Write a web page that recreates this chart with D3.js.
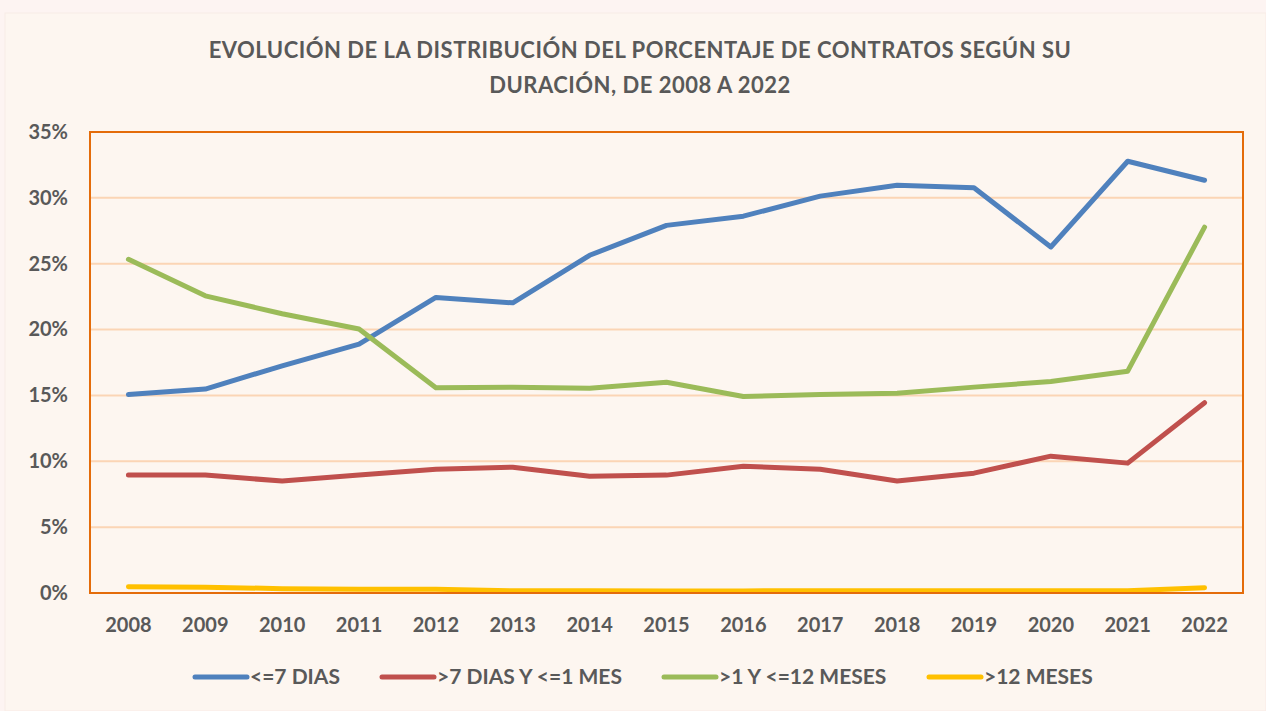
<!DOCTYPE html>
<html>
<head>
<meta charset="utf-8">
<script src="https://cdn.jsdelivr.net/npm/d3@7"></script>
<style>
  html, body { margin: 0; padding: 0; background: #fdf4f2; }
  svg { display: block; }
</style>
</head>
<body>
<div id="chart"></div>
<script>
// Datos
const years = ['2008', '2009', '2010', '2011', '2012', '2013', '2014', '2015',
  '2016', '2017', '2018', '2019', '2020', '2021', '2022'];
const hasta7Dias = [15.07, 15.48, 17.25, 18.9, 22.44, 22.03, 25.64, 27.91, 28.61, 30.13, 30.96, 30.76, 26.27, 32.78, 31.34];
const de7DiasA1Mes = [8.95, 8.95, 8.5, 8.95, 9.4, 9.55, 8.87, 8.95, 9.63, 9.4, 8.5, 9.1, 10.39, 9.86, 14.45];
const de1A12Meses = [25.34, 22.56, 21.2, 20.04, 15.58, 15.63, 15.55, 16.0, 14.92, 15.07, 15.17, 15.63, 16.06, 16.84, 27.78];
const mas12Meses = [0.48, 0.44, 0.33, 0.29, 0.29, 0.17, 0.17, 0.16, 0.16, 0.17, 0.18, 0.17, 0.18, 0.17, 0.4];
const seriesNames = ['<=7 DIAS', '>7 DIAS Y <=1 MES', '>1 Y <=12 MESES', '>12 MESES'];
const seriesColors = ['#4f81bd', '#c0504d', '#9bbb59', '#ffc000'];
const yTicks = [0, 5, 10, 15, 20, 25, 30, 35];

const series = [hasta7Dias, de7DiasA1Mes, de1A12Meses, mas12Meses].map((vals, i) => ({
  name: seriesNames[i],
  color: seriesColors[i],
  values: vals.map((v, j) => ({ year: years[j], value: v }))
}));

const W = 1266, H = 711;
const plot = { left: 90, right: 1243, top: 132, bottom: 593 };
const font = 'Lato, "Open Sans", sans-serif';
const textColor = '#595959';

const svg = d3.select('#chart').append('svg')
  .attr('width', W)
  .attr('height', H);

// fondo
svg.append('rect')
  .attr('x', 5).attr('y', 13)
  .attr('width', W - 5).attr('height', H - 13)
  .attr('fill', '#fdf6f0')
  .attr('stroke', '#f8ebe6');

// titulo
const title = svg.append('text')
  .attr('text-anchor', 'middle')
  .attr('font-family', font)
  .attr('font-weight', 'bold')
  .attr('font-size', 22)
  .attr('letter-spacing', 0.5)
  .attr('fill', textColor);
title.append('tspan').attr('x', 640).attr('y', 58)
  .text('EVOLUCIÓN DE LA DISTRIBUCIÓN DEL PORCENTAJE DE CONTRATOS SEGÚN SU');
title.append('tspan').attr('x', 640).attr('y', 93)
  .text('DURACIÓN, DE 2008 A 2022');

// escalas
const x = d3.scaleBand()
  .domain(years)
  .range([plot.left, plot.right]);

const y = d3.scaleLinear()
  .domain([0, 35])
  .range([plot.bottom, plot.top]);

// lineas de cuadricula
svg.append('g')
  .selectAll('line')
  .data(yTicks.filter(t => t > 0 && t < 35))
  .join('line')
  .attr('x1', plot.left).attr('x2', plot.right)
  .attr('y1', d => y(d)).attr('y2', d => y(d))
  .attr('stroke', '#fbd5b5')
  .attr('stroke-width', 2);

// eje Y
const yAxis = svg.append('g')
  .attr('transform', `translate(${plot.left},0)`)
  .call(d3.axisLeft(y).tickValues(yTicks).tickFormat(d => d + '%').tickSize(0).tickPadding(22));
yAxis.select('.domain').remove();
yAxis.selectAll('text')
  .attr('font-family', font)
  .attr('font-weight', 'bold')
  .attr('font-size', 20)
  .attr('fill', textColor);

// eje X
const xAxis = svg.append('g')
  .attr('transform', `translate(0,${plot.bottom})`)
  .call(d3.axisBottom(x).tickSize(0).tickPadding(25));
xAxis.select('.domain').remove();
xAxis.selectAll('text')
  .attr('font-family', font)
  .attr('font-weight', 'bold')
  .attr('font-size', 20)
  .attr('fill', textColor);

// lineas
const line = d3.line()
  .x(d => x(d.year) + x.bandwidth() / 2)
  .y(d => y(d.value));

svg.append('g')
  .selectAll('path')
  .data(series)
  .join('path')
  .attr('fill', 'none')
  .attr('stroke', d => d.color)
  .attr('stroke-width', 5)
  .attr('stroke-linecap', 'round')
  .attr('stroke-linejoin', 'round')
  .attr('d', d => line(d.values));

// borde del area de trazado
svg.append('rect')
  .attr('x', plot.left).attr('y', plot.top)
  .attr('width', plot.right - plot.left)
  .attr('height', plot.bottom - plot.top)
  .attr('fill', 'none')
  .attr('stroke', '#e46c0a')
  .attr('stroke-width', 2);

// leyenda
const legendX = [193, 380, 662, 927];
const legend = svg.append('g')
  .selectAll('g')
  .data(series)
  .join('g')
  .attr('transform', (d, i) => `translate(${legendX[i]},677)`);
legend.append('line')
  .attr('x1', 2).attr('x2', 54)
  .attr('stroke', d => d.color)
  .attr('stroke-width', 5)
  .attr('stroke-linecap', 'round');
legend.append('text')
  .attr('x', 57)
  .attr('dy', '0.35em')
  .attr('font-family', font)
  .attr('font-weight', 'bold')
  .attr('font-size', 21)
  .attr('fill', textColor)
  .text(d => d.name);
</script>
</body>
</html>
